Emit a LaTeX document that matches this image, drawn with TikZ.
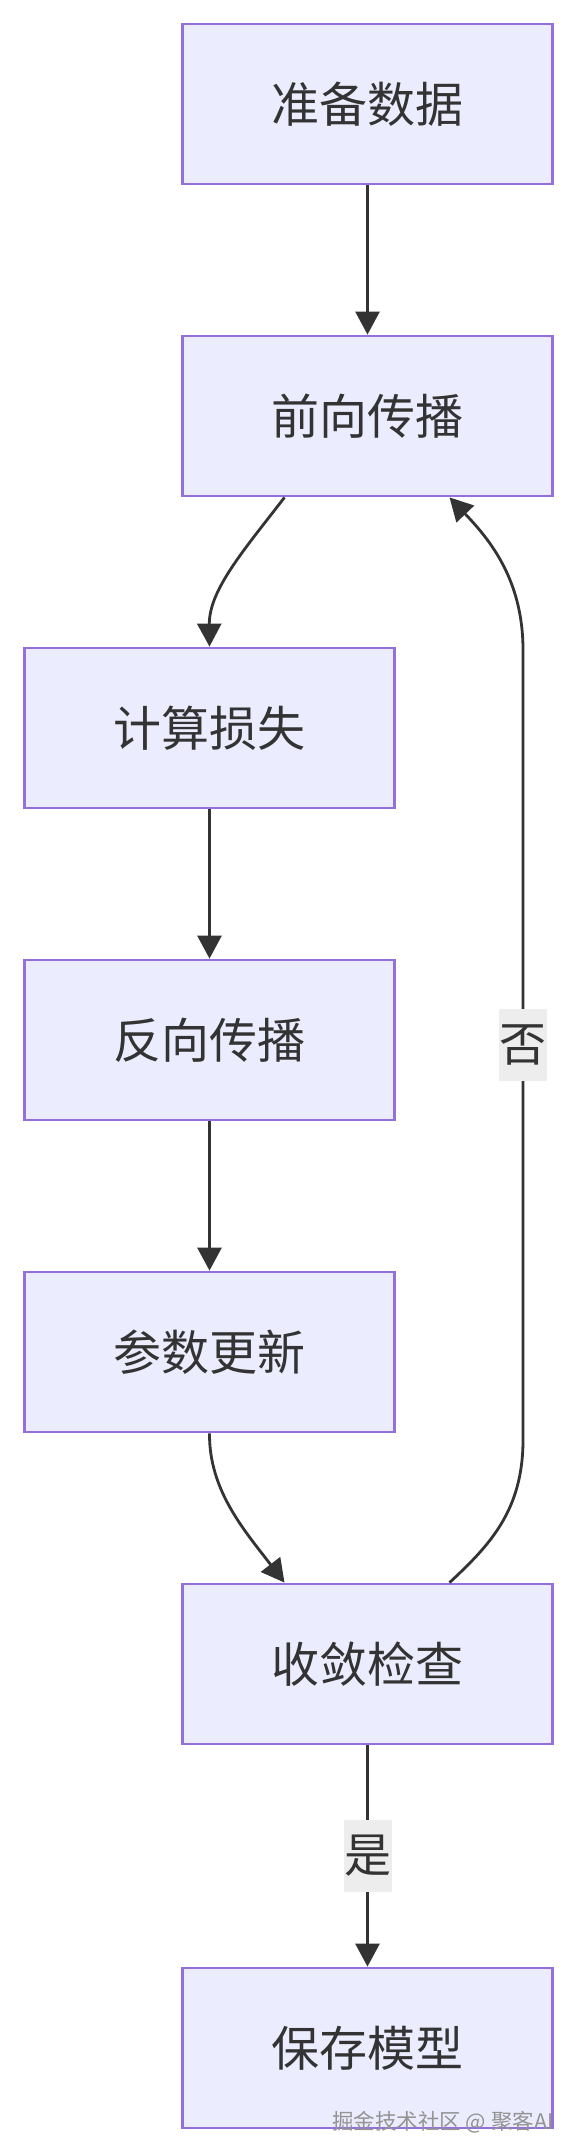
\documentclass[tikz,border=0pt]{standalone}
\usepackage{fontspec}
\setmainfont{Noto Sans CJK SC}
\usetikzlibrary{arrows.meta}
\definecolor{boxfill}{HTML}{ECECFF}
\definecolor{boxline}{HTML}{9370DB}
\definecolor{ink}{HTML}{333333}
\definecolor{lblbg}{HTML}{EDEDED}
\tikzset{
  stepbox/.style={draw=boxline, fill=boxfill, line width=2.8pt, minimum width=370pt, minimum height=160pt, inner sep=0pt, text=ink, font=\fontsize{48}{56}\selectfont},
  edge/.style={draw=ink, line width=2.8pt, -{Triangle[length=23pt,width=24pt]}},
  lbl/.style={fill=lblbg, text=ink, minimum width=48pt, minimum height=72pt, inner sep=0pt, font=\fontsize{47}{55}\selectfont},
}
\begin{document}
\begin{tikzpicture}[x=1pt,y=-1pt]
\useasboundingbox (0,0) rectangle (577,2154);
\node[stepbox] (n1) at (367.5,104) {准备数据};
\node[stepbox] (n2) at (367.5,416) {前向传播};
\node[stepbox] (n3) at (209.5,728) {计算损失};
\node[stepbox] (n4) at (209.5,1040) {反向传播};
\node[stepbox] (n5) at (209.5,1352) {参数更新};
\node[stepbox] (n6) at (367.5,1664) {收敛检查};
\node[stepbox] (n7) at (367.5,2048) {保存模型};
\draw[edge] (n1) -- (n2);
\draw[edge] ([xshift=-83pt]n2.south) .. controls (244,550) and (209,590) .. (n3.north);
\draw[edge] (n3) -- (n4);
\draw[edge] (n4) -- (n5);
\draw[edge] (n5.south) .. controls (209,1490) and (244,1530) .. ([xshift=-83pt]n6.north);
\draw[edge] ([xshift=82pt]n6.north) .. controls (490,1545) and (523,1510) .. (523,1440) -- node[lbl] (lno) {否} (523,650) .. controls (523,580) and (490,540) .. ([xshift=82pt]n2.south);
\draw[edge] (n6) -- node[lbl] (lyes) {是} (n7);
\node[anchor=east, text=gray!85, font=\fontsize{21.5}{25}\selectfont] (wm) at (557,2122) {掘金技术社区 @ 聚客AI};
\end{tikzpicture}
\end{document}
